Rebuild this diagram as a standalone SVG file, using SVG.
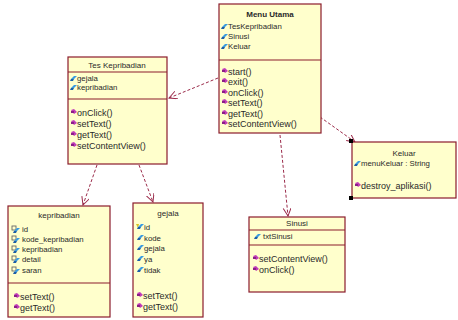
<svg xmlns="http://www.w3.org/2000/svg" width="458" height="320" viewBox="0 0 458 320">
<defs>
<style>
.box{fill:#ffffcc;stroke:#8b1c2c;stroke-width:1.2}
.ln{stroke:#8b1c2c;stroke-width:1.1}
.t{font-family:"Liberation Sans",Arial,sans-serif;fill:#2a2a2a}
.ttl{font-size:8px;text-anchor:middle}
.a{font-size:7.8px}
.o{font-size:9px}
.con{fill:none;stroke:#9b2b4a;stroke-width:1;stroke-dasharray:3,2}
</style>
<marker id="arr" markerWidth="10" markerHeight="10" refX="8" refY="4" orient="auto" markerUnits="userSpaceOnUse">
<path d="M0,0 L8,4 L0,8" fill="none" stroke="#9b2b4a" stroke-width="1"/>
</marker>
<g id="ai"><polygon points="0,2 3,-1 6,-1 3,2" fill="#3a9be0"/><polygon points="0,2 3,2 2,4 -1,4" fill="#1d5fa8"/></g>
<g id="oi"><polygon points="0,-1 3,-2 6,1 3,3" fill="#c03ab8"/><rect x="0" y="0" width="3" height="2" fill="#8a1f86"/></g>
<g id="ki"><rect x="0" y="-2" width="4" height="4" fill="none" stroke="#666" stroke-width="0.9"/><polygon points="2,3 5,0 8,0 5,3" fill="#3a9be0"/><polygon points="2,3 5,3 4,5 1,5" fill="#1d5fa8"/></g>
</defs>

<g id="connectors">
<line class="con" x1="218" y1="78" x2="169" y2="98" marker-end="url(#arr)"/>
<line class="con" x1="320" y1="117" x2="355" y2="142" marker-end="url(#arr)"/>
<line class="con" x1="280" y1="135" x2="288" y2="216" marker-end="url(#arr)"/>
<line class="con" x1="97" y1="165" x2="83" y2="205" marker-end="url(#arr)"/>
<line class="con" x1="139" y1="165" x2="153" y2="202" marker-end="url(#arr)"/>
</g>

<g id="menu-utama">
<rect class="box" x="219" y="4" width="102" height="129"/>
<text class="t ttl" x="270" y="17" font-weight="bold">Menu Utama</text>
<use href="#ai" x="222" y="25"/><text class="t a" x="228" y="29">TesKepribadian</text>
<use href="#ai" x="222" y="35"/><text class="t a" x="228" y="39">Sinusi</text>
<use href="#ai" x="222" y="45"/><text class="t a" x="228" y="49">Keluar</text>
<line class="ln" x1="219" y1="60" x2="321" y2="60"/>
<use href="#oi" x="222" y="70"/><text class="t o" x="228" y="75">start()</text>
<use href="#oi" x="222" y="80"/><text class="t o" x="228" y="85">exit()</text>
<use href="#oi" x="222" y="91"/><text class="t o" x="228" y="96">onClick()</text>
<use href="#oi" x="222" y="101"/><text class="t o" x="228" y="106">setText()</text>
<use href="#oi" x="222" y="112"/><text class="t o" x="228" y="117">getText()</text>
<use href="#oi" x="222" y="122"/><text class="t o" x="228" y="127">setContentView()</text>
</g>

<g id="tes-kepribadian">
<rect class="box" x="68" y="57" width="99" height="107"/>
<text class="t ttl" x="117" y="68">Tes Kepribadian</text>
<line class="ln" x1="68" y1="72" x2="167" y2="72"/>
<use href="#ai" x="71" y="77"/><text class="t a" x="77" y="81">gejala</text>
<use href="#ai" x="71" y="86"/><text class="t a" x="77" y="90">kepribadian</text>
<line class="ln" x1="68" y1="99" x2="167" y2="99"/>
<use href="#oi" x="71" y="111"/><text class="t o" x="77" y="116">onClick()</text>
<use href="#oi" x="71" y="122"/><text class="t o" x="77" y="127">setText()</text>
<use href="#oi" x="71" y="133"/><text class="t o" x="77" y="138">getText()</text>
<use href="#oi" x="71" y="144"/><text class="t o" x="77" y="149">setContentView()</text>
</g>

<g id="kepribadian">
<rect class="box" x="8" y="206" width="102" height="111"/>
<text class="t ttl" x="59" y="218">kepribadian</text>
<use href="#ki" x="12" y="228"/><text class="t a" x="22" y="232">id</text>
<use href="#ki" x="12" y="238"/><text class="t a" x="22" y="242">kode_kepribadian</text>
<use href="#ki" x="12" y="248"/><text class="t a" x="22" y="252">kepribadian</text>
<use href="#ki" x="12" y="258"/><text class="t a" x="22" y="262">detail</text>
<use href="#ki" x="12" y="269"/><text class="t a" x="22" y="273">saran</text>
<line class="ln" x1="8" y1="283" x2="110" y2="283"/>
<use href="#oi" x="14" y="295"/><text class="t o" x="20" y="300">setText()</text>
<use href="#oi" x="14" y="306"/><text class="t o" x="20" y="311">getText()</text>
</g>

<g id="gejala">
<rect class="box" x="133" y="203" width="70" height="114"/>
<text class="t ttl" x="168" y="216">gejala</text>
<polygon points="136,224 139,224 138,228" fill="#d8c020"/>
<use href="#ai" x="138" y="225"/><text class="t a" x="144" y="230">id</text>
<use href="#ai" x="138" y="236"/><text class="t a" x="144" y="241">kode</text>
<use href="#ai" x="138" y="246"/><text class="t a" x="144" y="251">gejala</text>
<use href="#ai" x="138" y="257"/><text class="t a" x="144" y="262">ya</text>
<use href="#ai" x="138" y="268"/><text class="t a" x="144" y="273">tidak</text>
<use href="#oi" x="137" y="294"/><text class="t o" x="143" y="299">setText()</text>
<use href="#oi" x="137" y="305"/><text class="t o" x="143" y="310">getText()</text>
</g>

<g id="sinusi">
<rect class="box" x="249" y="217" width="96" height="75"/>
<text class="t ttl" x="297" y="226">Sinusi</text>
<line class="ln" x1="249" y1="230" x2="345" y2="230"/>
<use href="#ai" x="255" y="235"/><text class="t a" x="263" y="239">txtSinusi</text>
<line class="ln" x1="249" y1="245" x2="345" y2="245"/>
<use href="#oi" x="253" y="257"/><text class="t o" x="259" y="262">setContentView()</text>
<use href="#oi" x="253" y="268"/><text class="t o" x="259" y="273">onClick()</text>
</g>

<g id="keluar">
<rect class="box" x="352" y="142" width="104" height="56"/>
<text class="t ttl" x="404" y="156">Keluar</text>
<use href="#ai" x="355" y="162"/><text class="t a" x="361" y="166">menuKeluar : String</text>
<use href="#oi" x="355" y="184"/><text class="t o" x="361" y="189">destroy_aplikasi()</text>
<rect x="349" y="139" width="4" height="4" fill="#000"/>
<rect x="349" y="196" width="4" height="4" fill="#000"/>
</g>
</svg>
